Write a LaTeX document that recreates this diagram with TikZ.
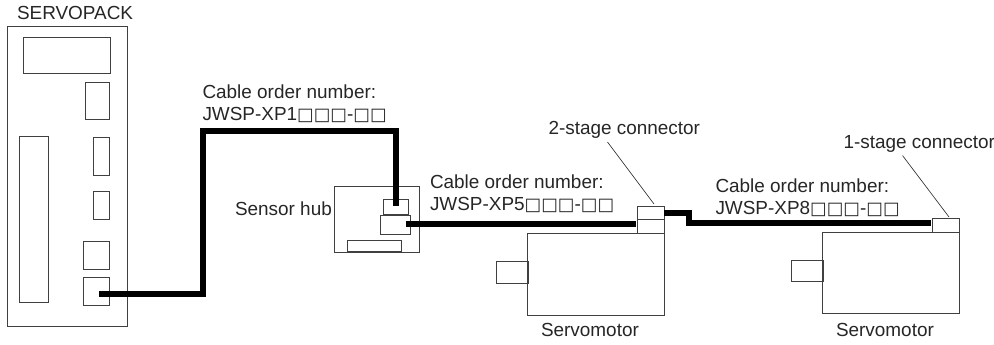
\documentclass[tikz,border=0pt]{standalone}
\usepackage{fontspec}
\setmainfont{Liberation Sans}
\newfontfamily\sqfont{DejaVu Sans}
\newcommand{\sq}{{\sqfont\fontsize{13.2pt}{16pt}\selectfont □}}
\newcommand{\bx}[5]{\node[box,anchor=north west,minimum width={(#4-#2)*0.75pt},minimum height={(#5-#3)*0.75pt}] (#1) at (#2,#3) {};}
\tikzset{
 x=0.75pt,y=-0.75pt,
 box/.style={draw=black!75,line width=0.65pt,inner sep=0pt,outer sep=0pt,fill=none},
 cable/.style={draw=black,line width=3.9pt,line join=miter},
 leader/.style={draw=black!80,line width=0.5pt},
 lbl/.style={inner sep=0pt,outer sep=0pt,anchor=base west,text=black!85,font=\fontsize{14.2pt}{16pt}\selectfont},
}
\begin{document}
\begin{tikzpicture}
\useasboundingbox (0,0) rectangle (994,344);
% SERVOPACK
\bx{sp}{7.5}{26.5}{127}{326}
\bx{disp}{23}{37.5}{110}{73}
\bx{a}{85.5}{82}{109.5}{119}
\bx{b}{93}{137.5}{109.5}{175}
\bx{c}{93}{191}{109.5}{219}
\bx{left}{19}{136.5}{48}{302}
\bx{d}{83.5}{241.5}{109.5}{269}
\bx{cn}{83.5}{277.5}{109.5}{305}
% hub
\bx{hub}{334.5}{186.5}{419.5}{252.5}
\bx{hu}{383}{199.5}{408}{214}
\bx{hl}{380.5}{215}{410}{234.5}
\bx{hb}{347}{240}{401}{251}
% motor 1
\bx{m1}{527}{233}{664}{315}
\bx{s1}{496.5}{261.5}{528}{283}
\bx{c1a}{637.5}{206}{664}{219.5}
\bx{c1b}{637.5}{219.5}{664}{233}
% motor 2
\bx{m2}{822}{232}{959}{313.5}
\bx{s2}{791.5}{260.5}{823}{281.5}
\bx{c2}{932}{218.5}{959}{232}
% cable ends
\coordinate (e1) at (99,294);
\coordinate (e2) at (396,206);
\coordinate (e3) at (405.5,224);
\coordinate (e4) at (635.5,224);
\coordinate (e5) at (664,213);
\coordinate (e6) at (930.5,223);
\draw[cable] (e1) -- (203,294) -- (203,131) -- (396,131) -- (e2);
\draw[cable] (e3) -- (e4);
\draw[cable] (e5) -- (689,213) -- (689,223) -- (e6);
% leaders
\coordinate (l1) at (607.5,142);
\coordinate (l1e) at (654,204);
\coordinate (l2) at (902.5,155.5);
\coordinate (l2e) at (949,217);
\draw[leader] (l1) -- (l1e);
\draw[leader] (l2) -- (l2e);
% labels
\node[lbl] (t0) at (17,19.5) {SERVOPACK};
\node[lbl] (t1) at (202.5,98) {Cable order number:};
\node[lbl] (t2) at (202.5,120.5) {JWSP-XP1\sq\sq\sq-\sq\sq};
\node[lbl] (t3) at (235,215.5) {Sensor hub};
\node[lbl] (t4) at (430,188) {Cable order number:};
\node[lbl] (t5) at (430,210) {JWSP-XP5\sq\sq\sq-\sq\sq};
\node[lbl] (t6) at (548.5,134) {2-stage connector};
\node[lbl] (t7) at (843.5,148) {1-stage connector};
\node[lbl] (t8) at (715.5,192) {Cable order number:};
\node[lbl] (t9) at (715.5,214) {JWSP-XP8\sq\sq\sq-\sq\sq};
\node[lbl] (t10) at (541,336) {Servomotor};
\node[lbl] (t11) at (836,336) {Servomotor};
\end{tikzpicture}
\end{document}
